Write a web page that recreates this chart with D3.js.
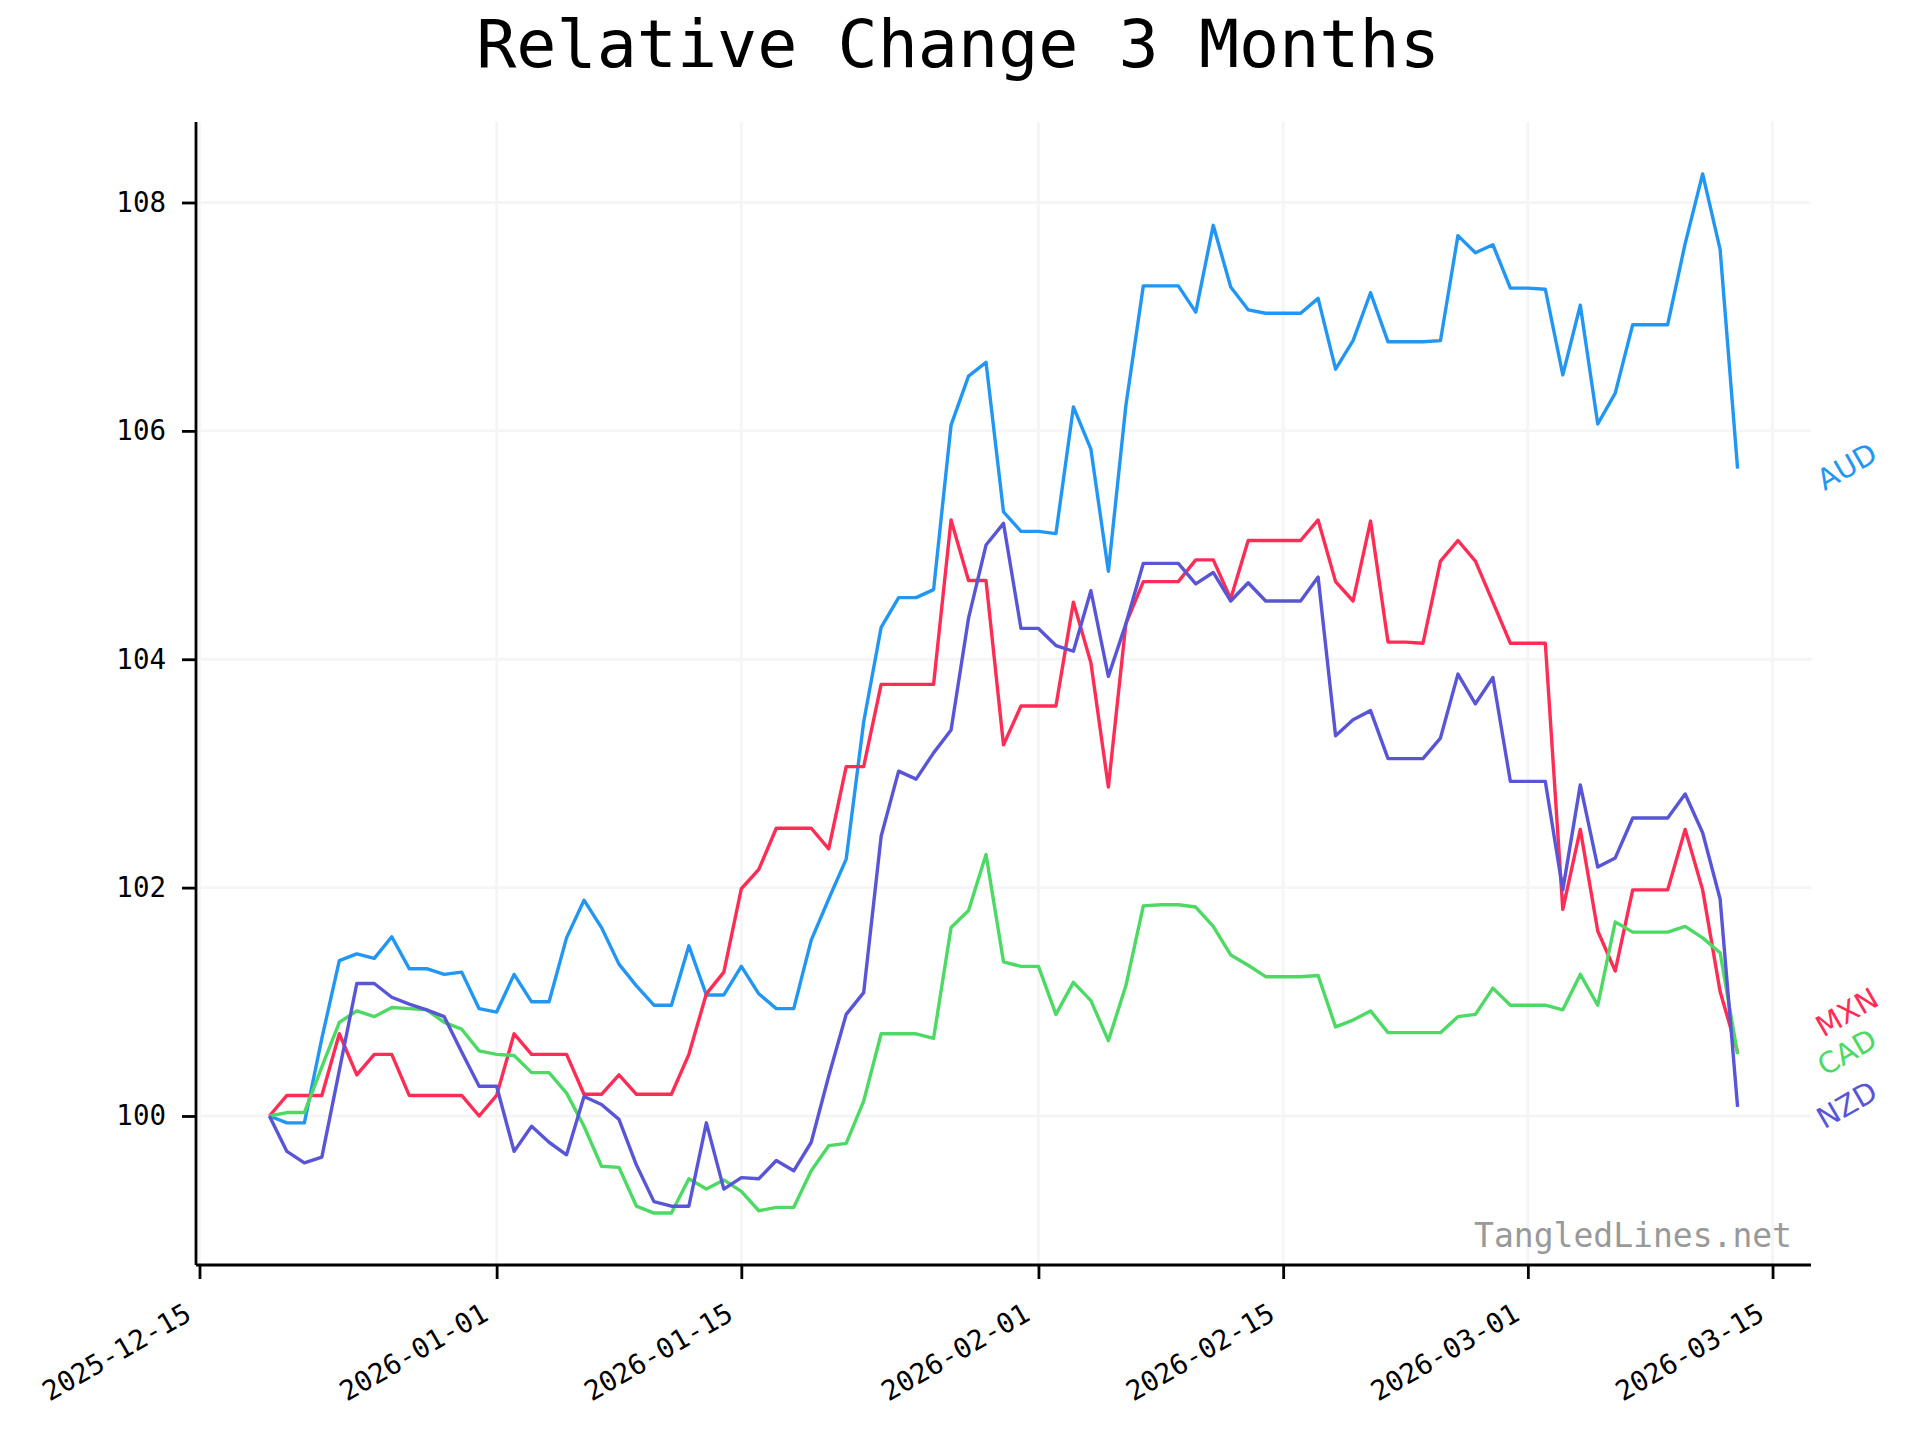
<!DOCTYPE html>
<html>
<head>
<meta charset="utf-8">
<script src="https://cdn.jsdelivr.net/npm/d3@7"></script>
<style>
  html, body { margin: 0; padding: 0; background: #fff; }
  svg { display: block; }
</style>
</head>
<body>
<svg id="chart" width="1920" height="1440"></svg>
<script>
const title = "Relative Change 3 Months";
const watermark = "TangledLines.net";

const dates = [
  "2025-12-19","2025-12-20","2025-12-21","2025-12-22","2025-12-23","2025-12-24","2025-12-25","2025-12-26","2025-12-27","2025-12-28","2025-12-29","2025-12-30","2025-12-31",
  "2026-01-01","2026-01-02","2026-01-03","2026-01-04","2026-01-05","2026-01-06","2026-01-07","2026-01-08","2026-01-09","2026-01-10","2026-01-11","2026-01-12","2026-01-13","2026-01-14","2026-01-15","2026-01-16","2026-01-17","2026-01-18","2026-01-19","2026-01-20","2026-01-21","2026-01-22","2026-01-23","2026-01-24","2026-01-25","2026-01-26","2026-01-27","2026-01-28","2026-01-29","2026-01-30","2026-01-31",
  "2026-02-01","2026-02-02","2026-02-03","2026-02-04","2026-02-05","2026-02-06","2026-02-07","2026-02-08","2026-02-09","2026-02-10","2026-02-11","2026-02-12","2026-02-13","2026-02-14","2026-02-15","2026-02-16","2026-02-17","2026-02-18","2026-02-19","2026-02-20","2026-02-21","2026-02-22","2026-02-23","2026-02-24","2026-02-25","2026-02-26","2026-02-27","2026-02-28",
  "2026-03-01","2026-03-02","2026-03-03","2026-03-04","2026-03-05","2026-03-06","2026-03-07","2026-03-08","2026-03-09","2026-03-10","2026-03-11","2026-03-12","2026-03-13"
];

const AUD = [100.0,99.94,99.94,100.68,101.36,101.42,101.38,101.57,101.29,101.29,101.24,101.26,100.94,100.91,101.24,101.0,101.0,101.56,101.89,101.65,101.33,101.14,100.97,100.97,101.49,101.06,101.06,101.31,101.07,100.94,100.94,101.54,101.90,102.25,103.45,104.28,104.54,104.54,104.61,106.05,106.48,106.60,105.29,105.12,105.12,105.10,106.21,105.84,104.77,106.22,107.27,107.27,107.27,107.04,107.80,107.26,107.06,107.03,107.03,107.03,107.16,106.54,106.79,107.21,106.78,106.78,106.78,106.79,107.71,107.56,107.63,107.25,107.25,107.24,106.49,107.10,106.06,106.33,106.93,106.93,106.93,107.64,108.25,107.59,105.67];

const MXN = [100.0,100.18,100.18,100.18,100.72,100.36,100.54,100.54,100.18,100.18,100.18,100.18,100.0,100.18,100.72,100.54,100.54,100.54,100.19,100.19,100.36,100.19,100.19,100.19,100.54,101.07,101.26,101.99,102.16,102.52,102.52,102.52,102.34,103.06,103.06,103.78,103.78,103.78,103.78,105.22,104.69,104.69,103.25,103.59,103.59,103.59,104.50,103.97,102.88,104.31,104.68,104.68,104.68,104.87,104.87,104.53,105.04,105.04,105.04,105.04,105.22,104.68,104.51,105.21,104.15,104.15,104.14,104.86,105.04,104.86,104.50,104.14,104.14,104.14,101.81,102.51,101.62,101.27,101.98,101.98,101.98,102.51,101.98,101.09,100.56];

const CAD = [100.0,100.03,100.03,100.43,100.82,100.92,100.87,100.95,100.94,100.93,100.82,100.76,100.57,100.54,100.53,100.38,100.38,100.20,99.91,99.56,99.55,99.21,99.15,99.15,99.45,99.36,99.44,99.34,99.17,99.20,99.20,99.52,99.74,99.76,100.13,100.72,100.72,100.72,100.68,101.65,101.80,102.29,101.35,101.31,101.31,100.89,101.17,101.01,100.66,101.14,101.84,101.85,101.85,101.83,101.66,101.41,101.32,101.22,101.22,101.22,101.23,100.78,100.84,100.92,100.73,100.73,100.73,100.73,100.87,100.89,101.12,100.97,100.97,100.97,100.93,101.24,100.97,101.70,101.61,101.61,101.61,101.66,101.56,101.43,100.54];

const NZD = [100.0,99.69,99.59,99.64,100.40,101.16,101.16,101.04,100.98,100.93,100.87,100.56,100.26,100.26,99.69,99.91,99.77,99.66,100.17,100.10,99.97,99.57,99.25,99.21,99.21,99.94,99.36,99.46,99.45,99.61,99.52,99.77,100.35,100.89,101.08,102.45,103.02,102.95,103.18,103.38,104.36,105.00,105.19,104.27,104.27,104.12,104.07,104.60,103.85,104.31,104.84,104.84,104.84,104.66,104.76,104.51,104.67,104.51,104.51,104.51,104.72,103.33,103.47,103.55,103.13,103.13,103.13,103.31,103.87,103.61,103.84,102.93,102.93,102.93,101.98,102.90,102.18,102.26,102.61,102.61,102.61,102.82,102.48,101.90,100.08];

const seriesNames = ["AUD", "MXN", "CAD", "NZD"];
const seriesValues = [AUD, MXN, CAD, NZD];
const seriesColors = ["#2196F3", "#FF2D55", "#4CD964", "#5856D6"];

const yTicks = [100, 102, 104, 106, 108];
const xTicks = ["2025-12-15","2026-01-01","2026-01-15","2026-02-01","2026-02-15","2026-03-01","2026-03-15"];

// ---- layout ----
const W = 1920, H = 1440;
const m = { left: 196, right: 1811, top: 122, bottom: 1265 };
const mono = "'DejaVu Sans Mono', monospace";
const sans = "'DejaVu Sans', sans-serif";

const parse = d3.utcParse("%Y-%m-%d");
const dts = dates.map(parse);

const t0 = +dts[0], t1 = +dts[dts.length - 1];
const xPad = (t1 - t0) * 0.05;
const x = d3.scaleUtc().domain([new Date(t0 - xPad), new Date(t1 + xPad)]).range([m.left, m.right]);

const allVals = seriesValues.flat();
const vmin = d3.min(allVals), vmax = d3.max(allVals);
const yPad = (vmax - vmin) * 0.05;
const y = d3.scaleLinear().domain([vmin - yPad, vmax + yPad]).range([m.bottom, m.top]);

const svg = d3.select("#chart");
svg.append("rect").attr("width", W).attr("height", H).attr("fill", "#fff");

// grid
const grid = svg.append("g");
grid.selectAll(".gy").data(yTicks).join("line")
  .attr("x1", m.left).attr("x2", m.right)
  .attr("y1", d => y(d)).attr("y2", d => y(d))
  .attr("stroke", "#f5f5f5").attr("stroke-width", 2.8);
grid.selectAll(".gx").data(xTicks.map(parse)).join("line")
  .attr("x1", d => x(d)).attr("x2", d => x(d))
  .attr("y1", m.top).attr("y2", m.bottom)
  .attr("stroke", "#f5f5f5").attr("stroke-width", 2.8);

// lines
const line = d3.line().x((d, i) => x(dts[i])).y(d => y(d));
seriesValues.forEach((vals, k) => {
  svg.append("path").datum(vals)
    .attr("d", line)
    .attr("fill", "none")
    .attr("stroke", seriesColors[k])
    .attr("stroke-width", 3.4)
    .attr("stroke-linejoin", "round")
    .attr("stroke-linecap", "butt");
});

// axes
const yAxis = d3.axisLeft(y).tickValues(yTicks).tickSize(14).tickPadding(16).tickFormat(d3.format("d"));
const gy = svg.append("g").attr("transform", `translate(${m.left},0)`).call(yAxis);
gy.select(".domain").attr("d", `M0,${m.top}V${m.bottom}`).attr("stroke", "#000").attr("stroke-width", 2.8);
gy.selectAll(".tick line").attr("stroke", "#000").attr("stroke-width", 2.8);
gy.selectAll(".tick text").attr("font-family", mono).attr("font-size", 27.5).attr("fill", "#000");

const xAxis = d3.axisBottom(x).tickValues(xTicks.map(parse)).tickSize(14).tickFormat(d3.utcFormat("%Y-%m-%d"));
const gx = svg.append("g").attr("transform", `translate(0,${m.bottom})`).call(xAxis);
gx.select(".domain").attr("d", `M${m.left},0H${m.right}`).attr("stroke", "#000").attr("stroke-width", 2.8);
gx.selectAll(".tick line").attr("stroke", "#000").attr("stroke-width", 2.8);
gx.selectAll(".tick text")
  .attr("font-family", mono).attr("font-size", 27.5).attr("fill", "#000")
  .attr("text-anchor", "end")
  .attr("dy", null)
  .attr("y", 0)
  .attr("transform", "translate(-7,54) rotate(-30)");

// series labels at right with collision avoidance
const lastPts = seriesNames.map((n, k) => ({
  name: n, color: seriesColors[k], ly: y(seriesValues[k][seriesValues[k].length - 1])
}));
lastPts.sort((a, b) => b.ly - a.ly);
for (let i = 1; i < lastPts.length; i++) {
  lastPts[i].ly = Math.min(lastPts[i].ly, lastPts[i - 1].ly - 40);
}
const labelX = m.right + 36;
svg.append("g").selectAll("text").data(lastPts).join("text")
  .attr("transform", d => `translate(${labelX},${d.ly - 2}) rotate(-30)`)
  .attr("text-anchor", "middle")
  .attr("dominant-baseline", "central")
  .attr("font-family", sans)
  .attr("font-size", 29)
  .attr("fill", d => d.color)
  .text(d => d.name);

// watermark
svg.append("text")
  .attr("x", 1792).attr("y", 1247)
  .attr("text-anchor", "end")
  .attr("font-family", mono).attr("font-size", 33)
  .attr("fill", "#999999")
  .text(watermark);

// title
svg.append("text")
  .attr("x", 958).attr("y", 67)
  .attr("text-anchor", "middle")
  .attr("font-family", mono).attr("font-size", 66.7)
  .attr("fill", "#000")
  .text(title);
</script>
</body>
</html>
